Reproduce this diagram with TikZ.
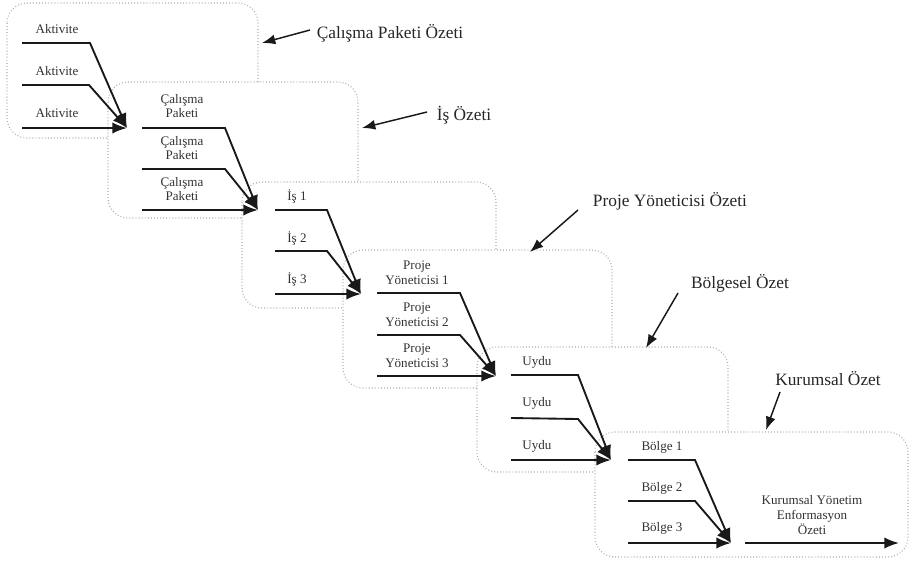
\documentclass[tikz,border=0pt]{standalone}
\usepackage{fontspec}
\setmainfont{Liberation Serif}
\usetikzlibrary{arrows.meta}
\begin{document}
\begin{tikzpicture}[x=0.75pt,y=-0.75pt,
  boxstyle/.style={draw=black!32,fill=white,line width=0.8pt,dash pattern=on 0.7pt off 1.6pt,rounded corners=15pt},
  flow/.style={draw=black!90,line width=1.4pt,-{Latex[length=11pt,width=8.5pt]}},
  note/.style={draw=black!90,line width=1.1pt,-{Latex[length=10pt,width=7.5pt]}},
  lbl/.style={font=\fontsize{9.8}{11}\selectfont,text=black!80,align=center,inner sep=0pt},
  title/.style={font=\fontsize{13}{15}\selectfont,text=black!85,inner sep=0pt}]
\useasboundingbox (0,0) rectangle (914,561);
% boxes
\draw[boxstyle] (7,3) rectangle (258,138);
\draw[boxstyle] (108,82) rectangle (358,218);
\draw[boxstyle] (242,182) rectangle (496,308);
\draw[boxstyle] (343,250) rectangle (612,388);
\draw[boxstyle] (477,347) rectangle (728,472);
\draw[boxstyle] (595,432) rectangle (908,557);
% group 1
\coordinate (g1a) at (22,43);  \coordinate (g1ab) at (90,43);
\coordinate (g1b) at (22,85);  \coordinate (g1bb) at (89,85);
\coordinate (g1c) at (22,128); \coordinate (g1t) at (127,128);
\draw[flow] (g1a) -- (g1ab) -- (g1t);
\draw[flow] (g1b) -- (g1bb) -- (g1t);
\draw[flow] (g1c) -- (g1t);
\node[lbl] (l11) at (57,29) {Aktivite};
\node[lbl] (l12) at (57,71) {Aktivite};
\node[lbl] (l13) at (57,113) {Aktivite};
% group 2
\coordinate (g2a) at (142,128); \coordinate (g2ab) at (225,128);
\coordinate (g2b) at (142,169); \coordinate (g2bb) at (225,169);
\coordinate (g2c) at (142,210); \coordinate (g2t) at (258,210);
\draw[flow] (g2a) -- (g2ab) -- (g2t);
\draw[flow] (g2b) -- (g2bb) -- (g2t);
\draw[flow] (g2c) -- (g2t);
\node[lbl] (l21) at (182,106) {Çalışma\\Paketi};
\node[lbl] (l22) at (182,148) {Çalışma\\Paketi};
\node[lbl] (l23) at (182,189) {Çalışma\\Paketi};
% group 3
\coordinate (g3a) at (275,210); \coordinate (g3ab) at (327,210);
\coordinate (g3b) at (275,251); \coordinate (g3bb) at (327,251);
\coordinate (g3c) at (275,294); \coordinate (g3t) at (361,294);
\draw[flow] (g3a) -- (g3ab) -- (g3t);
\draw[flow] (g3b) -- (g3bb) -- (g3t);
\draw[flow] (g3c) -- (g3t);
\node[lbl] (l31) at (297,196) {İş 1};
\node[lbl] (l32) at (297,238) {İş 2};
\node[lbl] (l33) at (297,279) {İş 3};
% group 4
\coordinate (g4a) at (377,293); \coordinate (g4ab) at (460,293);
\coordinate (g4b) at (377,335); \coordinate (g4bb) at (460,335);
\coordinate (g4c) at (377,376); \coordinate (g4t) at (496,376);
\draw[flow] (g4a) -- (g4ab) -- (g4t);
\draw[flow] (g4b) -- (g4bb) -- (g4t);
\draw[flow] (g4c) -- (g4t);
\node[lbl] (l41) at (417,273) {Proje\\Yöneticisi 1};
\node[lbl] (l42) at (417,315) {Proje\\Yöneticisi 2};
\node[lbl] (l43) at (417,356) {Proje\\Yöneticisi 3};
% group 5
\coordinate (g5a) at (511,375); \coordinate (g5ab) at (578,375);
\coordinate (g5b) at (511,418); \coordinate (g5bb) at (578,419);
\coordinate (g5c) at (511,460); \coordinate (g5t) at (611,460);
\draw[flow] (g5a) -- (g5ab) -- (g5t);
\draw[flow] (g5b) -- (g5bb) -- (g5t);
\draw[flow] (g5c) -- (g5t);
\node[lbl] (l51) at (537,362) {Uydu};
\node[lbl] (l52) at (537,403) {Uydu};
\node[lbl] (l53) at (537,446) {Uydu};
% group 6
\coordinate (g6a) at (628,460); \coordinate (g6ab) at (695,460);
\coordinate (g6b) at (628,501); \coordinate (g6bb) at (695,501);
\coordinate (g6c) at (628,543); \coordinate (g6t) at (731,543);
\draw[flow] (g6a) -- (g6ab) -- (g6t);
\draw[flow] (g6b) -- (g6bb) -- (g6t);
\draw[flow] (g6c) -- (g6t);
\node[lbl] (l61) at (662,447) {Bölge 1};
\node[lbl] (l62) at (662,488) {Bölge 2};
\node[lbl] (l63) at (662,528) {Bölge 3};
% final output
\coordinate (fo) at (745,543); \coordinate (fe) at (899,543);
\draw[flow] (fo) -- (fe);
\node[lbl] (lf) at (812,515) {Kurumsal Yönetim\\Enformasyon\\Özeti};
% annotations
\node[title] (t1) at (390,33) {Çalışma Paketi Özeti};
\node[title] (t2) at (464,115) {İş Özeti};
\node[title] (t3) at (670,201) {Proje Yöneticisi Özeti};
\node[title] (t4) at (740,283) {Bölgesel Özet};
\node[title] (t5) at (828,379) {Kurumsal Özet};
\coordinate (a1s) at (310,30);  \coordinate (a1e) at (262,43);
\coordinate (a2s) at (427,112); \coordinate (a2e) at (362,128);
\coordinate (a3s) at (578,210); \coordinate (a3e) at (530,252);
\coordinate (a4s) at (678,293); \coordinate (a4e) at (646,348);
\coordinate (a5s) at (780,392); \coordinate (a5e) at (766,430);
\draw[note] (a1s) -- (a1e);
\draw[note] (a2s) -- (a2e);
\draw[note] (a3s) -- (a3e);
\draw[note] (a4s) -- (a4e);
\draw[note] (a5s) -- (a5e);
\end{tikzpicture}
\end{document}
